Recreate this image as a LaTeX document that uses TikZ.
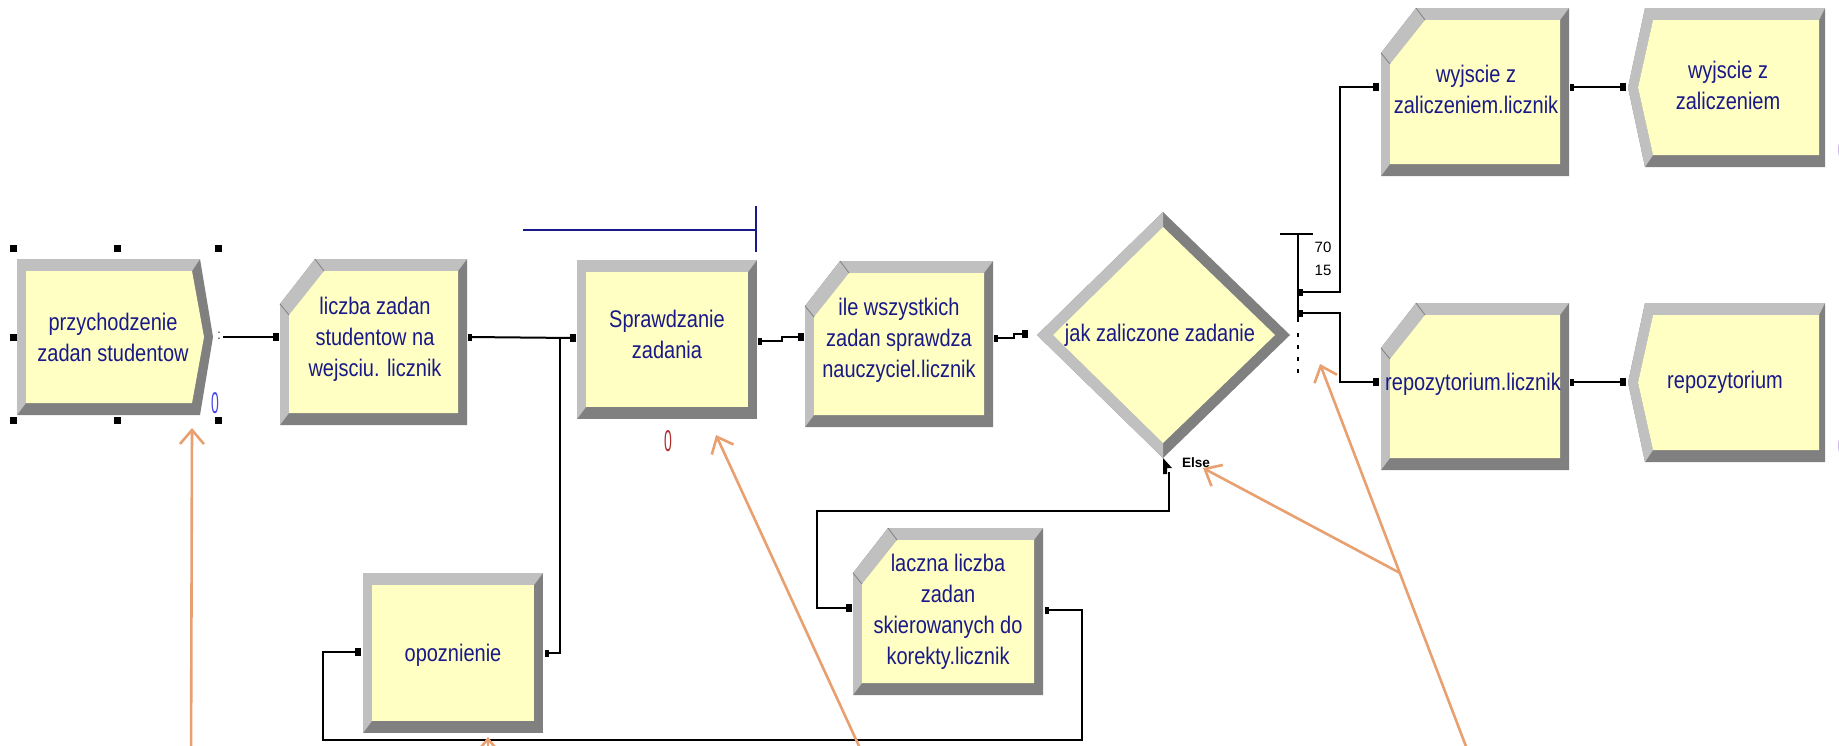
\documentclass[tikz,border=0pt]{standalone}
\usepackage{graphicx}
\usepackage{fontspec}
\setmainfont{Liberation Sans}
\usetikzlibrary{arrows.meta}
\definecolor{yel}{RGB}{255,255,196}
\definecolor{lgray}{RGB}{192,192,192}
\definecolor{dgray}{RGB}{128,128,128}
\definecolor{navy}{RGB}{25,25,135}
\definecolor{annoc}{RGB}{232,160,112}
\definecolor{cblue}{RGB}{70,70,230}
\definecolor{cred}{RGB}{175,45,45}
\definecolor{cpurple}{RGB}{140,90,210}
\newcommand{\mlabel}[1]{\scalebox{1}[1.2]{\fontsize{10pt}{12.9pt}\selectfont\begin{tabular}{@{}c@{}}#1\end{tabular}}}
\newcommand{\cnt}[1]{\scalebox{0.7}[1.5]{\fontsize{10pt}{12pt}\selectfont #1}}
% process box: x1 y1 x2 y2
\newcommand{\procshape}[4]{%
 \fill[dgray] (#1,#2) rectangle (#3,#4);
 \fill[lgray] (#1,#4) -- (#1,#2) -- (#3,#2) -- ({#3-9},{#2+12}) -- ({#1+9},{#2+12}) -- ({#1+9},{#4-12}) -- cycle;
 \fill[yel] ({#1+9},{#2+12}) rectangle ({#3-9},{#4-12});}
% record box with cut corner: x1 y1 x2 y2
\newcommand{\recshape}[4]{%
 \fill[dgray] (#1,{#2+45}) -- ({#1+35},#2) -- (#3,#2) -- (#3,#4) -- (#1,#4) -- cycle;
 \fill[lgray] (#1,#4) -- (#1,{#2+45}) -- ({#1+35},#2) -- (#3,#2) -- ({#3-9},{#2+12}) -- ({#1+44},{#2+12}) -- ({#1+9},{#2+56}) -- ({#1+9},{#4-12}) -- cycle;
 \fill[yel] ({#1+9},{#2+56}) -- ({#1+44},{#2+12}) -- ({#3-9},{#2+12}) -- ({#3-9},{#4-12}) -- ({#1+9},{#4-12}) -- cycle;
 \draw[dgray, line width=0.4pt] (#1,{#2+45}) -- ({#1+9},{#2+56}) ({#1+35},#2) -- ({#1+44},{#2+12});}
% create box: x1 y1 x2 tip y2
\newcommand{\createshape}[5]{%
 \fill[dgray] (#1,#2) -- (#3,#2) -- (#4,{(#2+#5)/2}) -- (#3,#5) -- (#1,#5) -- cycle;
 \fill[lgray] (#1,#5) -- (#1,#2) -- (#3,#2) -- ({#3-8},{#2+12}) -- ({#1+9},{#2+12}) -- ({#1+9},{#5-12}) -- cycle;
 \fill[yel] ({#1+9},{#2+12}) -- ({#3-8},{#2+12}) -- ({#4-9},{(#2+#5)/2}) -- ({#3-8},{#5-12}) -- ({#1+9},{#5-12}) -- cycle;}
% dispose box: xp x1 y1 x2 y2
\newcommand{\disposeshape}[5]{%
 \fill[dgray] (#2,#3) -- (#4,#3) -- (#4,#5) -- (#2,#5) -- (#1,{(#3+#5)/2}) -- cycle;
 \fill[lgray] (#2,#5) -- (#1,{(#3+#5)/2}) -- (#2,#3) -- (#4,#3) -- ({#4-6},{#3+12}) -- ({#2+8},{#3+12}) -- ({#1+10},{(#3+#5)/2}) -- ({#2+8},{#5-12}) -- cycle;
 \fill[yel] ({#2+8},{#3+12}) -- ({#4-6},{#3+12}) -- ({#4-6},{#5-12}) -- ({#2+8},{#5-12}) -- ({#1+10},{(#3+#5)/2}) -- cycle;}
\begin{document}
\begin{tikzpicture}[x=0.5pt,y=-0.5pt,
  conn/.style={line width=1pt, black},
  inport/.style={fill=black, inner sep=0pt, minimum width=3pt, minimum height=4pt},
  outport/.style={fill=black, inner sep=0pt, minimum width=1.6pt, minimum height=3.5pt},
  handle/.style={fill=black, inner sep=0pt, minimum size=3.5pt},
  mtext/.style={text=navy, inner sep=0pt, align=center},
  anno/.style={draw=annoc, line width=1.3pt, -{Straight Barb[length=7pt,width=12pt]}},
  small/.style={font=\fontsize{7.5pt}{8pt}\selectfont, inner sep=0pt, text=black},
]
\useasboundingbox (0,0) rectangle (1839,745);
\clip (0,0) rectangle (1839,745);

% ---------- module shapes ----------
\createshape{17}{259}{200}{213}{415}
\recshape{280}{259}{467}{425}
\procshape{577}{260}{757}{419}
\recshape{805}{261}{993}{427}
\fill[dgray] (1037,335) -- (1163,212) -- (1290,335) -- (1163,458) -- cycle;
\fill[lgray] (1163,212) -- (1037,335) -- (1163,458) -- (1163,443) -- (1053,335) -- (1163,227) -- cycle;
\fill[yel] (1053,335) -- (1163,227) -- (1275,335) -- (1163,443) -- cycle;
\recshape{1381}{8}{1569}{176}
\disposeshape{1628}{1645}{8}{1825}{167}
\recshape{1381}{303}{1569}{470}
\disposeshape{1628}{1645}{303}{1825}{462}
\recshape{853}{528}{1043}{695}
\procshape{363}{573}{543}{733}

% ---------- labels ----------
\node[mtext] (n1) at (113,340) {\mlabel{przychodzenie\\zadan studentow}};
\node[mtext] (n2) at (375,339) {\mlabel{liczba zadan\\studentow na\\wejsciu. licznik}};
\node[mtext] (n3) at (667,337) {\mlabel{Sprawdzanie\\zadania}};
\node[mtext] (n4) at (899,340) {\mlabel{ile wszystkich\\zadan sprawdza\\nauczyciel.licznik}};
\node[mtext] (n5) at (1160,335) {\mlabel{jak zaliczone zadanie}};
\node[mtext] (n6) at (1476,92) {\mlabel{wyjscie z\\zaliczeniem.licznik}};
\node[mtext] (n7) at (1728,88) {\mlabel{wyjscie z\\zaliczeniem}};
\node[mtext] (n8) at (1473,384) {\mlabel{repozytorium.licznik}};
\node[mtext] (n9) at (1725,382) {\mlabel{repozytorium}};
\node[mtext] (n10) at (948,612) {\mlabel{laczna liczba\\zadan\\skierowanych do\\korekty.licznik}};
\node[mtext] (n11) at (453,655) {\mlabel{opoznienie}};

% ---------- ports ----------
\coordinate (n1o) at (223,337);
\coordinate (n2i) at (276,337);  \coordinate (n2o) at (470,337);
\coordinate (n3i) at (573,338);  \coordinate (n3o) at (760,341);
\coordinate (n4i) at (801,337);  \coordinate (n4o) at (996,338);
\coordinate (n5i) at (1025,334);
\coordinate (dp1) at (1301,292); \coordinate (dp2) at (1301,313);
\coordinate (elseo) at (1169,472);
\coordinate (n6i) at (1376,87);  \coordinate (n6o) at (1572,87);
\coordinate (n7i) at (1623,87);
\coordinate (n8i) at (1376,382); \coordinate (n8o) at (1572,382);
\coordinate (n9i) at (1623,382);
\coordinate (n10i) at (849,608); \coordinate (n10o) at (1047,610);
\coordinate (n11i) at (358,652); \coordinate (n11o) at (547,653);
\coordinate (jn) at (560,337);

% ---------- connectors ----------
\draw[conn] (n1o) -- (n2i);
\draw[conn] (n2o) -- (n3i);
\draw[conn] (n3o) -- ++(22,0) |- (n4i);
\draw[conn] (n4o) -- ++(18,0) |- (n5i);
\draw[conn] (dp1) -- (1340,292) |- (n6i);
\draw[conn] (dp2) -- (1340,313) |- (n8i);
\draw[conn] (n6o) -- (n7i);
\draw[conn] (n8o) -- (n9i);
\draw[conn] (elseo) -- (1169,511) -| (817,608) -- (n10i);
\draw[conn] (n10o) -- (1082,610) |- (323,740) |- (n11i);
\draw[conn] (n11o) -| (jn);

% port marks
\foreach \p in {n2i,n3i,n4i,n5i,n6i,n7i,n8i,n9i,n10i,n11i} \node[inport] at (\p) {};
\foreach \p in {n2o,n3o,n4o,n6o,n8o,n10o,n11o,dp1,dp2} \node[outport] at (\p) {};
\node[inner sep=0pt, font=\fontsize{7pt}{7pt}\selectfont, text=black!75] at (219,336) {:};
\fill[black] (1163,458) -- (1172,468) -- (1167,468) -- (1167,474) -- (1163,474) -- cycle;

% decide branch mark
\draw[line width=1pt] (1280,234) -- (1313,234);
\draw[line width=1pt] (1298,234) -- (1298,322);
\draw[line width=0.8pt, dash pattern=on 2pt off 4pt] (1298,333) -- (1298,374);
\node[small] at (1323,247) {70};
\node[small] at (1323,270) {15};
\node[small, font=\fontsize{6.8pt}{7pt}\selectfont\bfseries] at (1196,463) {Else};

% queue line of the process
\draw[navy, line width=1pt] (523,230) -- (756,230);
\draw[navy, line width=1pt] (756,206) -- (756,252);

% counters
\node[text=cblue, inner sep=0pt] at (215,403) {\cnt{0}};
\node[text=cred, inner sep=0pt] at (668,441) {\cnt{0}};
\node[text=cpurple, inner sep=0pt] at (1842,150) {\cnt{0}};
\node[text=cpurple, inner sep=0pt] at (1842,446) {\cnt{0}};

% selection handles
\foreach \hx/\hy in {13/248,117/248,218/248,13/337,13/420,117/420,218/420}
  \node[handle] at (\hx,\hy) {};

% annotation arrows
\draw[anno] (191,770) -- (192,428);
\draw[anno] (870,770) -- (716,435);
\draw[anno] (1475,770) -- (1320,364);
\draw[anno] (1400,573) -- (1203,468);
\draw[anno] (488,780) -- (488,737);
\end{tikzpicture}
\end{document}
